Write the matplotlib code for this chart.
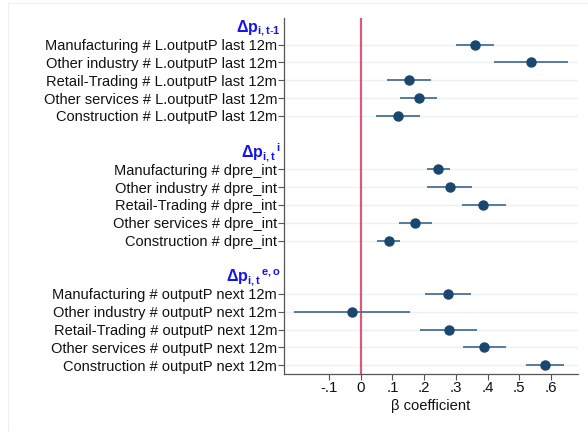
import matplotlib as mpl
mpl.use("Agg")
import matplotlib.pyplot as plt
import numpy as np
from matplotlib.patches import Rectangle

plt.rcParams["font.family"] = "Liberation Sans"
plt.rcParams["mathtext.fontset"] = "custom"
plt.rcParams["mathtext.rm"] = "Liberation Sans"
plt.rcParams["mathtext.bf"] = "Liberation Sans:bold"
plt.rcParams["mathtext.it"] = "Liberation Sans:italic"

sectors = ["Manufacturing", "Other industry", "Retail-Trading", "Other services", "Construction"]
suffixes = ["L.outputP last 12m", "dpre_int", "outputP next 12m"]
headers = [
    r"$\mathbf{\Delta p_{i,t\text{-}1}}$",
    r"$\mathbf{\Delta p_{i,t}}^{\mathbf{\,i}}$",
    r"$\mathbf{\Delta p_{i,t}}^{\mathbf{\,e,o}}$",
]

# coefficients and 95% CI bounds, one list per block
coef_lag = [0.361, 0.537, 0.153, 0.183, 0.117]
lo_lag = [0.301, 0.419, 0.084, 0.124, 0.048]
hi_lag = [0.420, 0.655, 0.221, 0.240, 0.187]

coef_int = [0.245, 0.280, 0.387, 0.172, 0.088]
lo_int = [0.209, 0.210, 0.318, 0.122, 0.052]
hi_int = [0.282, 0.350, 0.458, 0.224, 0.125]

coef_next = [0.276, -0.028, 0.277, 0.390, 0.581]
lo_next = [0.204, -0.211, 0.187, 0.323, 0.520]
hi_next = [0.347, 0.156, 0.366, 0.459, 0.641]

xticks = [-0.1, 0, 0.1, 0.2, 0.3, 0.4, 0.5, 0.6]
xticklabels = ["-.1", "0", ".1", ".2", ".3", ".4", ".5", ".6"]

blocks = [(coef_lag, lo_lag, hi_lag), (coef_int, lo_int, hi_int), (coef_next, lo_next, hi_next)]

navy = "#1a476f"
ci_col = "#4b7097"

fig = plt.figure(figsize=(5.88, 4.32), dpi=100)
fig.patches.append(Rectangle((8 / 588, 0), 1, 1 - 3 / 432, transform=fig.transFigure,
                             fill=False, edgecolor="#eeeeee", lw=0.8))
ax = fig.add_axes([284 / 588, 1 - 374 / 432, 294 / 588, (374 - 18) / 432])

ypos, ylabels, hdr_pos = [], [], []
row = 0
for b, (coef, lo, hi) in enumerate(blocks):
    hdr_pos.append(row)
    row += 1
    ys = []
    for i, s in enumerate(sectors):
        ys.append(row)
        ylabels.append(f"{s} # {suffixes[b]}")
        row += 1
    ypos += ys
    for y in ys:
        ax.axhline(y, color="#e9f1f3", lw=1.0, zorder=0)
    ax.hlines(ys, lo, hi, color=ci_col, lw=1.3, zorder=2)
    ax.plot(coef, ys, "o", color=navy, ms=6.5, zorder=3)
    row += 1

ax.axvline(0, color="#d65c79", lw=1.6, zorder=1)

ax.set_ylim(row - 1 - 0.5, -0.5)
ax.set_xlim(-0.242, 0.685)
ax.set_yticks(ypos)
ax.set_yticklabels(ylabels, fontsize=10.5, color="#111111")
ax.set_xticks(xticks)
ax.set_xticklabels(xticklabels, fontsize=10.8, color="#111111")
ax.set_xlabel("β coefficient", fontsize=10.6, color="#111111", labelpad=3)

for h, y in zip(headers, hdr_pos):
    ax.text(-0.01, y + 0.1, h, transform=ax.get_yaxis_transform(), ha="right", va="center",
            color="#1414f0", fontsize=11.5)

for s in ["top", "right"]:
    ax.spines[s].set_visible(False)
for s in ["left", "bottom"]:
    ax.spines[s].set_color("#555555")
    ax.spines[s].set_linewidth(0.9)
ax.tick_params(axis="both", length=4, width=0.8, color="#555555", pad=1)

fig.savefig("out.png", dpi=100)
